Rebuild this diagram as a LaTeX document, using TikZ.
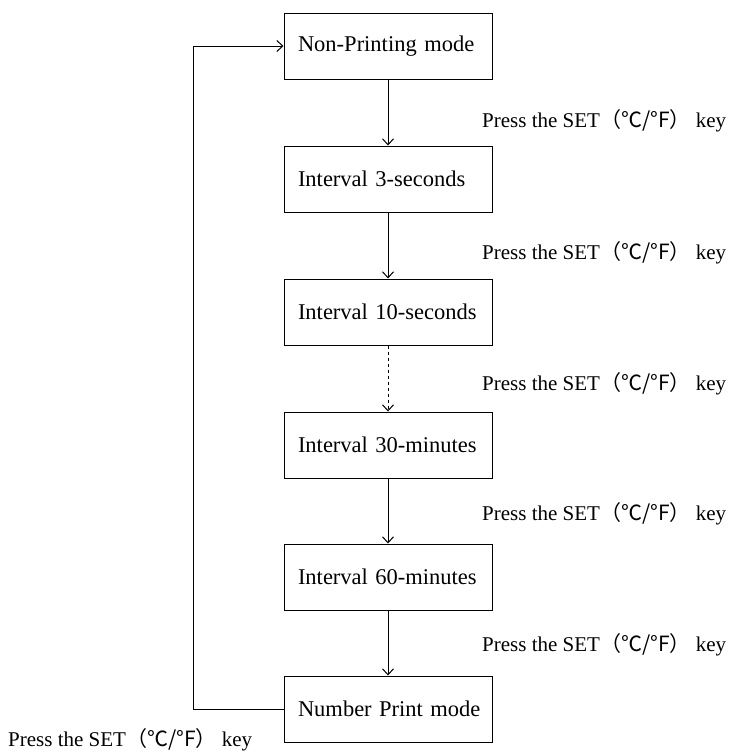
\documentclass[tikz,border=0pt]{standalone}
\usepackage{fontspec}
\setmainfont{Liberation Serif}
\newfontfamily\cjk{Noto Sans CJK SC}
\usetikzlibrary{arrows.meta}
\def\setkey{Press the SET{\cjk （℃/°F）} key}
\tikzset{mode/.style={draw, line width=1pt, text width=186pt, align=left,
      inner xsep=11pt, minimum height=66pt, font=\fontsize{22.5}{26}\selectfont},
    flow/.style={line width=1pt, -{Straight Barb[length=6pt,width=11pt]}},
    keylabel/.style={anchor=west, inner sep=0pt}}

\begin{document}
\begin{tikzpicture}[x=1pt, y=-1pt, font=\fontsize{21}{25}\selectfont]
    \useasboundingbox (0,0) rectangle (729,755);
    \node[mode] (non)  at (388,46)  {\hspace{3pt}Non-Printing mode};
    \node[mode] (sec3) at (388,179) {\hspace{3pt}Interval 3-seconds};
    \node[mode] (sec10) at (388,312) {\hspace{3pt}Interval 10-seconds};
    \node[mode] (min30) at (388,445) {\hspace{3pt}Interval 30-minutes};
    \node[mode] (min60) at (388,577) {\hspace{3pt}Interval 60-minutes};
    \node[mode] (num)  at (388,709) {\hspace{3pt}Number Print mode};
    \draw[flow] (non) -- (sec3);
    \draw[flow] (sec3) -- (sec10);
    \draw[flow, dash pattern=on 3pt off 3pt] (sec10) -- (min30);
    \draw[flow] (min30) -- (min60);
    \draw[flow] (min60) -- (num);
    \coordinate (loop) at (193,709);
    \draw[flow] (num.west) -- (loop) |- (non.west);
    \foreach \y in {121,253,384,514,645}
      \node[keylabel] (key\y) at (482,\y) {\setkey};
    \node[keylabel] (keyback) at (8,740) {\setkey};
\end{tikzpicture}
\end{document}
